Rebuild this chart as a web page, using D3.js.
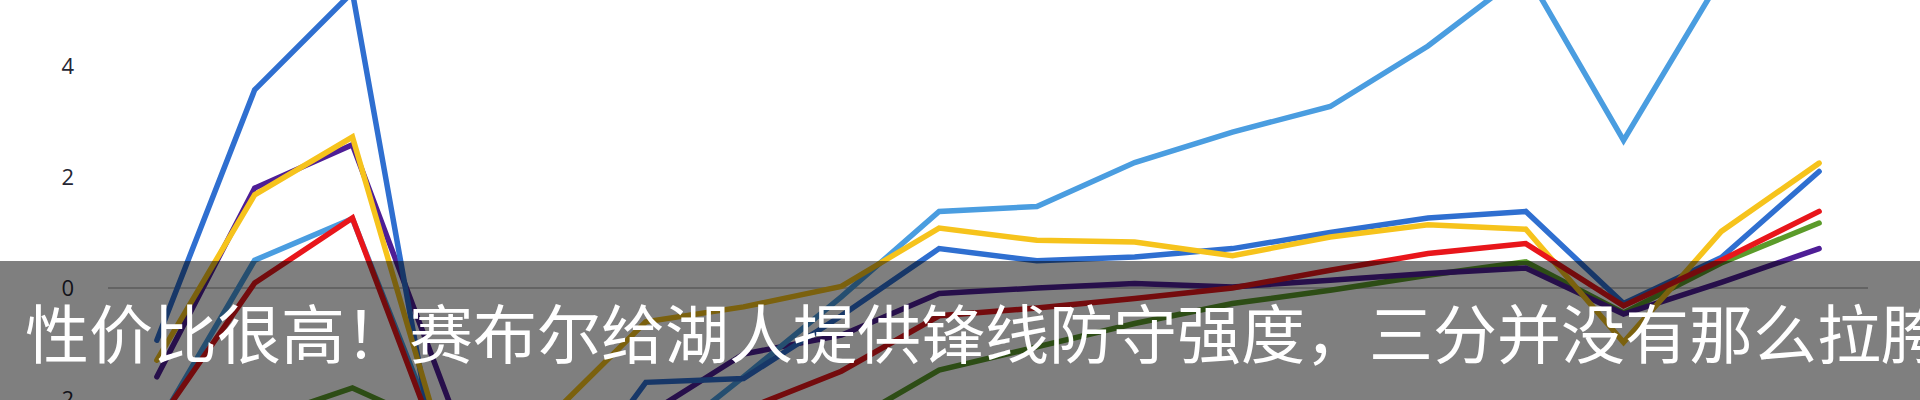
<!DOCTYPE html>
<html>
<head>
<meta charset="utf-8">
<script src="https://cdn.jsdelivr.net/npm/d3@7/dist/d3.min.js"></script>
<style>
  html, body { margin: 0; padding: 0; background: #ffffff; overflow: hidden; }
  svg { display: block; }
</style>
</head>
<body>
<svg id="chart" width="1920" height="400"></svg>
<script>
// ---- data ----
const categories = ["1","2","3","4","5","6","7","8","9","10","11","12","13","14","15","16","17","18"];
const seriesNames = ["green", "purple", "lightBlue", "blue", "yellow", "red"];
const greenValues     = [-3.0, -2.4, -1.80, -2.6, -3.0, -3.3, -3.0, -2.5, -1.48, -1.06, -0.64, -0.28, -0.04, 0.23, 0.47, -0.45, 0.45, 1.17];
const purpleValues    = [-1.60, 1.80, 2.58, -2.1, -2.6, -2.3, -1.19, -0.85, -0.10, 0.0, 0.08, 0.02, 0.14, 0.26, 0.36, -0.47, 0.10, 0.71];
const lightBlueValues = [-2.5, 0.50, 1.25, -3.2, -3.5, -3.0, -1.60, -0.16, 1.38, 1.47, 2.26, 2.81, 3.27, 4.36, 5.7, 2.66, 5.6, 7.0];
const blueValues      = [-0.94, 3.57, 5.33, -4.5, -4.1, -1.70, -1.63, -0.50, 0.71, 0.49, 0.56, 0.71, 1.0, 1.26, 1.38, -0.28, 0.55, 2.10];
const yellowValues    = [-1.30, 1.68, 2.72, -3.3, -2.35, -0.61, -0.34, 0.03, 1.08, 0.86, 0.83, 0.58, 0.92, 1.14, 1.06, -0.98, 1.02, 2.25];
const redValues       = [-2.45, 0.09, 1.26, -3.4, -3.0, -2.6, -2.2, -1.50, -0.50, -0.36, -0.19, 0.0, 0.32, 0.62, 0.80, -0.32, 0.50, 1.38];
const tickValues = [-2, 0, 2, 4];
const tickLabels = ["-2", "0", "2", "4"];
const subtitle = "性价比很高！赛布尔给湖人提供锋线防守强度，三分并没有那么拉胯";

// ---- styles ----
const colors = {
  green: "#5b9b2a",
  purple: "#4e1e96",
  lightBlue: "#4a9de0",
  blue: "#2f6fd0",
  yellow: "#f6c31c",
  red: "#e8161b"
};
const valuesBy = {
  green: greenValues, purple: purpleValues, lightBlue: lightBlueValues,
  blue: blueValues, yellow: yellowValues, red: redValues
};

const svg = d3.select("#chart");

const x = d3.scalePoint().domain(categories).range([108, 1868]).padding(0.5);
const y = d3.scaleLinear().domain([-2, 4]).range([399, 66]);

// zero gridline
svg.append("line")
  .attr("x1", 108).attr("x2", 1868)
  .attr("y1", y(0)).attr("y2", y(0))
  .attr("stroke", "#b4b4b4").attr("stroke-width", 1.5);

// y axis labels
const yAxis = d3.axisLeft(y)
  .tickValues(tickValues)
  .tickSize(0)
  .tickPadding(0)
  .tickFormat((d, i) => tickLabels[i]);
const gAxis = svg.append("g").attr("transform", "translate(74,0)").call(yAxis);
gAxis.select(".domain").remove();
gAxis.selectAll("text")
  .attr("font-family", "'Open Sans', 'DejaVu Sans', sans-serif")
  .attr("font-size", 22)
  .attr("fill", "#262633");

// lines
const line = d3.line()
  .x((d, i) => x(categories[i]))
  .y(d => y(d))
  .curve(d3.curveLinear);

const gLines = svg.append("g");
seriesNames.forEach(name => {
  gLines.append("path")
    .datum(valuesBy[name])
    .attr("d", line)
    .attr("fill", "none")
    .attr("stroke", colors[name])
    .attr("stroke-width", 5.5)
    .attr("stroke-linejoin", "miter")
    .attr("stroke-miterlimit", 3)
    .attr("stroke-linecap", "round");
});

// subtitle overlay band
svg.append("rect")
  .attr("x", 0).attr("y", 261)
  .attr("width", 1920).attr("height", 139)
  .attr("fill", "rgba(0,0,0,0.5)");

svg.append("text")
  .attr("x", 25).attr("y", 358)
  .attr("font-family", "'Noto Sans CJK SC', sans-serif")
  .attr("font-size", 64)
  .attr("fill", "#ffffff")
  .text(subtitle);
</script>
</body>
</html>
